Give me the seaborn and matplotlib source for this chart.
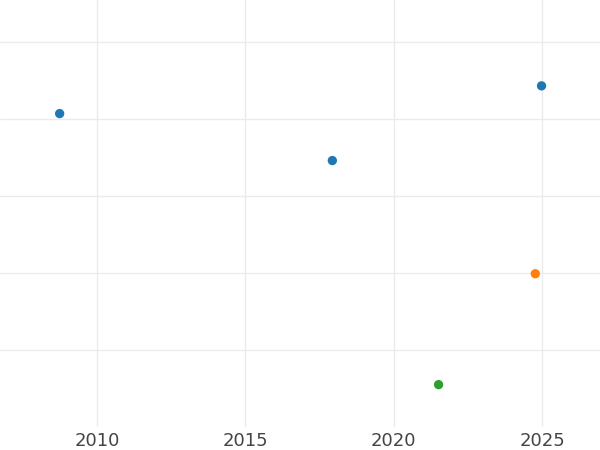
import pandas as pd
import seaborn as sns
import matplotlib.pyplot as plt

# Values
years = [2008.74, 2017.93, 2024.98, 2024.77, 2021.51]
values = [4.07, 3.46, 4.43, 1.99, 0.55]
groups = ['A', 'A', 'A', 'B', 'C']
group_colors = {'A': '#1f77b4', 'B': '#ff7f0e', 'C': '#2ca02c'}
x_ticks = [2010, 2015, 2020, 2025]
y_ticks = [1, 2, 3, 4, 5]

df = pd.DataFrame({'year': years, 'value': values, 'group': groups})

sns.set_style("white")
fig = plt.figure(figsize=(6, 4.5), dpi=100)
ax = fig.add_axes([0, 23 / 450, 1, 427 / 450])

sns.scatterplot(data=df, x='year', y='value', hue='group', palette=group_colors,
                s=45, edgecolor='none', legend=False, ax=ax, zorder=3)

ax.set_xlim(2006.73, 2026.95)
ax.set_ylim(0, 5.545)
ax.set_xticks(x_ticks)
ax.set_yticks(y_ticks)
ax.set_yticklabels([])
ax.grid(True, color='#ebebeb', linewidth=1)
ax.set_axisbelow(True)
ax.tick_params(axis='both', length=0, labelsize=13, labelcolor='#444444', pad=3.5)
ax.set_xlabel('')
ax.set_ylabel('')
sns.despine(ax=ax, left=True, bottom=True)

fig.savefig('out.png', dpi=100)
